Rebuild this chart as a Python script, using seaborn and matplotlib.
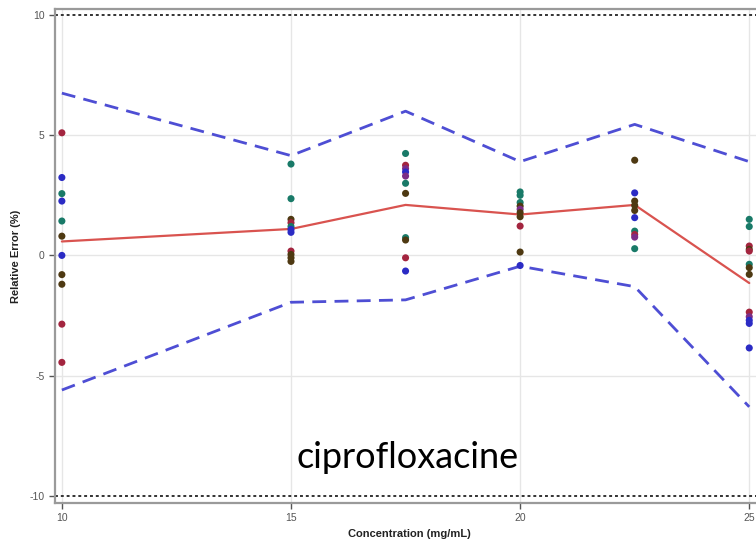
import matplotlib
matplotlib.use("Agg")
import matplotlib.pyplot as plt
import seaborn as sns
import pandas as pd

# ---- data ----
levels = [10, 15, 17.5, 20, 22.5, 25]
mean_err = [0.58, 1.1, 2.1, 1.7, 2.1, -1.15]
upper_lim = [6.75, 4.15, 6.0, 3.9, 5.45, 3.9]
lower_lim = [-5.6, -1.95, -1.85, -0.45, -1.3, -6.3]

pts_10 = [5.1, 3.24, 2.57, 2.26, 1.43, 0.8, 0.0, -0.8, -1.2, -2.86, -4.45]
grp_10 = ["A", "B", "C", "B", "C", "D", "B", "D", "D", "A", "A"]
pts_15 = [3.8, 2.36, 1.5, 1.36, 1.2, 1.08, 0.96, 0.18, 0.04, -0.1, -0.25]
grp_15 = ["C", "C", "D", "A", "C", "B", "B", "A", "D", "D", "D"]
pts_175 = [4.24, 3.75, 3.61, 3.47, 3.3, 3.0, 2.58, 0.74, 0.64, -0.1, -0.65]
grp_175 = ["C", "A", "E", "B", "E", "C", "D", "C", "D", "A", "B"]
pts_20 = [2.64, 2.5, 2.2, 2.05, 1.92, 1.78, 1.61, 1.22, 0.14, -0.42]
grp_20 = ["C", "C", "C", "D", "E", "D", "D", "A", "D", "B"]
pts_225 = [3.96, 2.6, 2.26, 2.08, 1.87, 1.57, 1.01, 0.87, 0.76, 0.28]
grp_225 = ["D", "B", "D", "D", "D", "B", "C", "A", "E", "C"]
pts_25 = [1.5, 1.2, 0.39, 0.25, 0.18, -0.37, -0.51, -0.79, -2.36, -2.55, -2.7, -2.83, -3.85]
grp_25 = ["C", "C", "A", "D", "A", "C", "D", "D", "A", "E", "B", "B", "B"]

palette = {"A": "#a3253f", "B": "#2b2bc4", "C": "#197a68", "D": "#4e3912", "E": "#7b2d86"}

rows = []
for c, vals, grps in [(10, pts_10, grp_10), (15, pts_15, grp_15), (17.5, pts_175, grp_175),
                      (20, pts_20, grp_20), (22.5, pts_225, grp_225), (25, pts_25, grp_25)]:
    for v, g in zip(vals, grps):
        rows.append({"conc": c, "err": v, "grp": g})
pts = pd.DataFrame(rows)
summ = pd.DataFrame({"conc": levels, "mean": mean_err, "up": upper_lim, "lo": lower_lim})

sns.set_theme(style="white")
plt.rcParams["font.family"] = ["Liberation Sans", "DejaVu Sans"]

fig = plt.figure(figsize=(7.56, 5.41), dpi=100)
ax = fig.add_axes([55 / 756, 1 - 503 / 541, 708 / 756, 494 / 541])

ax.set_xlim(9.85, 25.3)
ax.set_ylim(-10.3, 10.25)

# grid
for xv in [10, 15, 20, 25]:
    ax.axvline(xv, color="#e6e6e6", lw=1, zorder=0)
for yv in [-5, 0, 5]:
    ax.axhline(yv, color="#e6e6e6", lw=1, zorder=0)

# acceptance limits
ax.axhline(10, color="#333333", lw=1.4, ls=(0, (1.5, 1.5)), zorder=1)
ax.axhline(-10, color="#333333", lw=1.4, ls=(0, (1.5, 1.5)), zorder=1)

sns.lineplot(data=summ, x="conc", y="up", ax=ax, color="#4e4ed4", lw=2,
             linestyle=(0, (5, 3)), zorder=2)
sns.lineplot(data=summ, x="conc", y="lo", ax=ax, color="#4e4ed4", lw=2,
             linestyle=(0, (5, 3)), zorder=2)
sns.lineplot(data=summ, x="conc", y="mean", ax=ax, color="#d9534f", lw=1.6, zorder=3)

sns.scatterplot(data=pts, x="conc", y="err", hue="grp", palette=palette, ax=ax,
                s=26, edgecolor="none", legend=False, zorder=4)

ax.set_xticks([10, 15, 20, 25])
ax.set_xticklabels(["10", "15", "20", "25"])
ax.set_yticks([-10, -5, 0, 5, 10])
ax.set_yticklabels(["-10", "-5", "0", "5", "10"])
ax.tick_params(axis="both", labelsize=7.5, colors="#555555", length=4, width=1,
               direction="out", bottom=True, left=True)
for sp in ax.spines.values():
    sp.set_color("#9a9a9a")
    sp.set_linewidth(1.6)

ax.set_xlabel("Concentration (mg/mL)", fontsize=8, fontweight="bold", color="#222222", labelpad=4)
ax.set_ylabel("Relative Error (%)", fontsize=8, fontweight="bold", color="#222222", labelpad=6)

fig.text(408 / 756, 1 - 457 / 541, "ciprofloxacine", fontsize=26, color="black",
         ha="center", va="center", family=["Lato", "DejaVu Sans"])

fig.savefig("out.png", dpi=100)
